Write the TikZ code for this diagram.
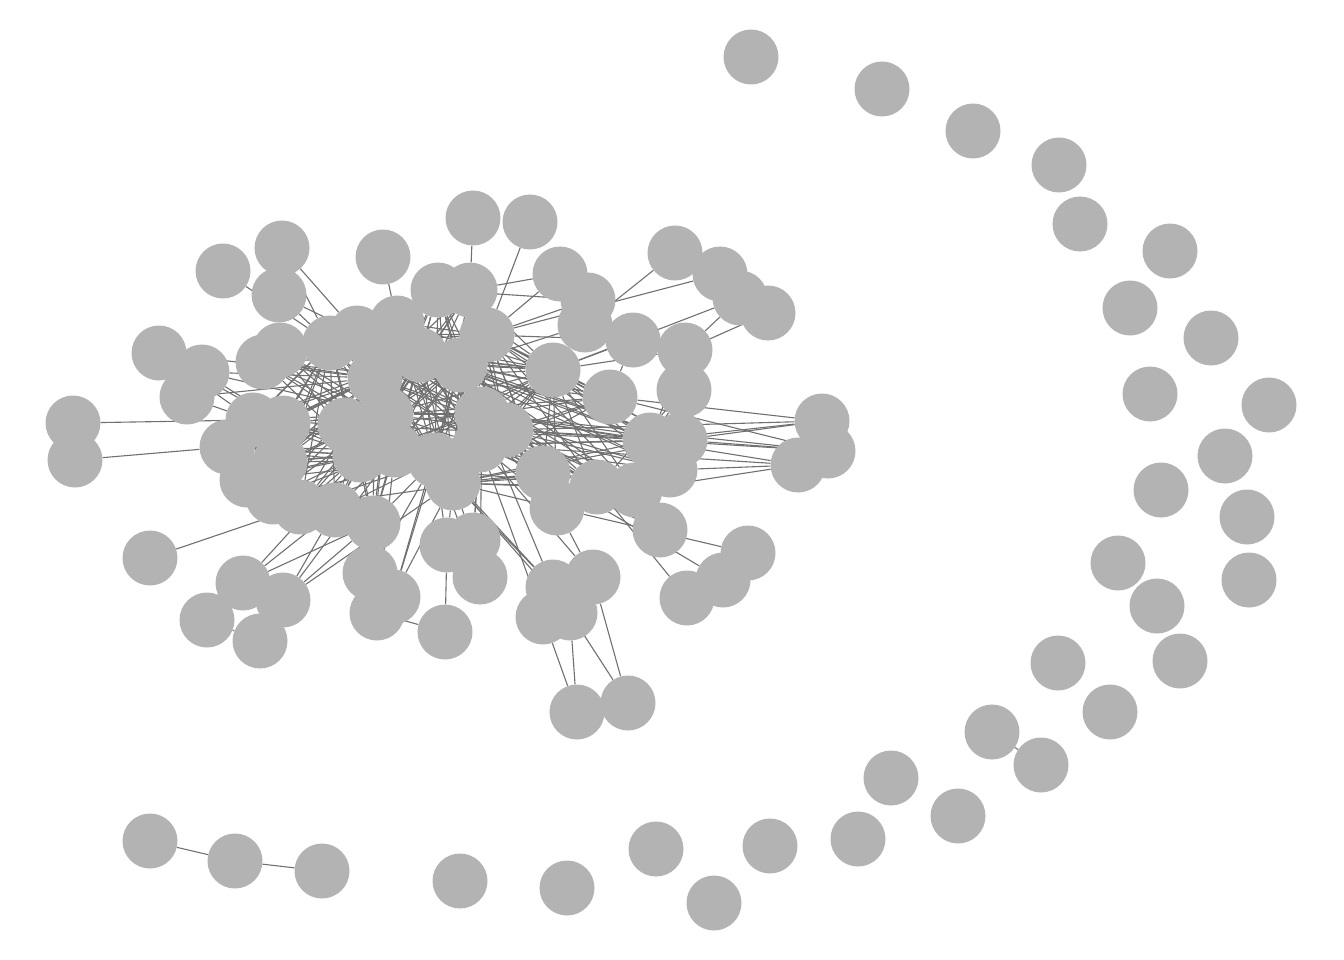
\documentclass[tikz,border=0pt]{standalone}
\pgfdeclarelayer{links}
\pgfsetlayers{links,main}
\definecolor{vgray}{RGB}{179,179,179}
\definecolor{lgray}{RGB}{112,112,112}

\begin{document}
\begin{tikzpicture}[
  x=1pt, y=-1pt,
  vtx/.style={circle, fill=vgray, minimum size=55pt, inner sep=0pt},
  link/.style={draw=lgray, line width=1.1pt}
]
\useasboundingbox (0,0) rectangle (1344,960);

% dense core of the big component
\foreach \n/\x/\y in {1/330/343, 2/357/333, 3/397/323, 4/438/290, 5/470/290, 6/487/335,
  7/553/370, 8/375/378, 9/420/355, 10/460/365, 11/482/414, 12/386/414, 13/435/460,
  14/506/430, 15/453/483, 16/480/445, 17/395/450, 18/360/455, 19/283/423, 20/253/420,
  21/227/447, 22/247/480, 23/273/497, 24/300/507, 25/335/510, 26/373/523, 27/543/473,
  28/557/508, 29/597/487, 30/635/490, 31/650/440, 32/680/440, 33/670/470, 34/610/397,
  35/263/362, 36/280/350, 37/280/462, 38/390/350, 39/345/425}
  \node[vtx] (h\n) at (\x,\y) {};

% leaves of the big component
\foreach \n/\x/\y in {1/473/218, 2/530/222, 3/383/257, 4/282/248, 5/223/271, 6/279/295,
  7/159/353, 8/202/372, 9/187/397, 10/73/423, 11/75/460, 12/150/558, 13/243/583,
  14/283/600, 15/207/620, 16/260/641, 17/370/573, 18/393/597, 19/377/613, 20/445/632,
  21/447/545, 22/473/540, 23/480/577, 24/553/587, 25/593/577, 26/543/617, 27/570/613,
  28/577/712, 29/628/703, 30/660/530, 31/748/553, 32/723/580, 33/687/598, 34/822/421,
  35/828/451, 36/798/465, 37/633/340, 38/685/350, 39/684/390, 40/675/253, 41/720/274,
  42/740/298, 43/768/313, 44/560/274, 45/588/300, 46/585/325}
  \node[vtx] (q\n) at (\x,\y) {};

% small components and isolated vertices
\foreach \n/\x/\y in {1/751/57, 2/882/89, 3/973/131, 4/1059/165, 5/1080/224, 6/1170/251,
  7/1130/308, 8/1211/338, 9/1150/394, 10/1269/405, 11/1225/456, 12/1161/490,
  13/1247/517, 14/1118/563, 15/1249/580, 16/1157/606, 17/1180/661, 18/1058/663,
  19/1110/712, 20/992/732, 21/1041/765, 22/891/778, 23/958/816, 24/858/839,
  25/770/846, 26/714/903, 27/656/849, 28/567/888, 29/460/881, 30/150/841,
  31/235/861, 32/322/871}
  \node[vtx] (r\n) at (\x,\y) {};

\begin{pgfonlayer}{links}
% core: every pair
\foreach \i in {1,...,17}{
  \pgfmathtruncatemacro\k{\i+1}
  \foreach \j in {\k,...,18}
    \draw[link] (h\i) -- (h\j);
}
% left and right rims of the core
\foreach \a in {19,20,21,22,23,24,25,26,35,36,37}
  \foreach \b in {1,8,9,12,13,17,18}
    \draw[link] (h\a) -- (h\b);
\foreach \a in {27,28,29,30,31,32,33,34}
  \foreach \b in {6,7,9,10,11,14,15,16}
    \draw[link] (h\a) -- (h\b);
\foreach \a/\b in {20/31, 21/29, 19/34, 36/7, 24/27, 35/34, 38/16, 39/11}
  \draw[link] (h\a) -- (h\b);

% leaves
\foreach \a/\b in {q1/h5, q2/h6, q3/h3, q4/h2, q4/h1, q5/h1, q6/h1, q6/h2,
  q7/h20, q7/h19, q7/h8, q8/h19, q8/h12, q8/h8, q9/h20, q9/h8, q10/h20, q11/h21,
  q12/h24, q13/h25, q13/h26, q13/h18, q14/h26, q14/h17, q14/h25, q14/h15,
  q15/q16, q17/h13, q17/h12, q18/h13, q18/h15, q18/h10, q19/q20, q19/h17,
  q20/q21, q21/h13, q21/h15, q22/h15, q22/h16, q22/h11, q23/h13, q23/h11,
  q24/h15, q24/h10, q24/h13, q25/h28, q25/h16, q26/h16, q26/q28, q27/q28,
  q27/h13, q29/q24, q29/q25, q30/h16, q30/h11, q31/h28, q32/h27, q33/h29,
  q34/h31, q34/h34, q34/h14, q34/h32, q35/h31, q35/h32, q35/h11, q35/h34,
  q36/h33, q36/h30, q36/h11, q36/h16, q37/h34, q37/h7, q37/h6, q38/h7, q38/h31,
  q39/h31, q39/h29, q40/q46, q41/h6, q42/q38, q43/q38, q42/h7, q44/h6, q44/h5,
  q45/h6, q45/h4, q46/h7, q46/h10}
  \draw[link] (\a) -- (\b);

% other components
\foreach \a/\b in {r20/r21, r30/r31, r31/r32}
  \draw[link] (\a) -- (\b);
\end{pgfonlayer}
\end{tikzpicture}
\end{document}
